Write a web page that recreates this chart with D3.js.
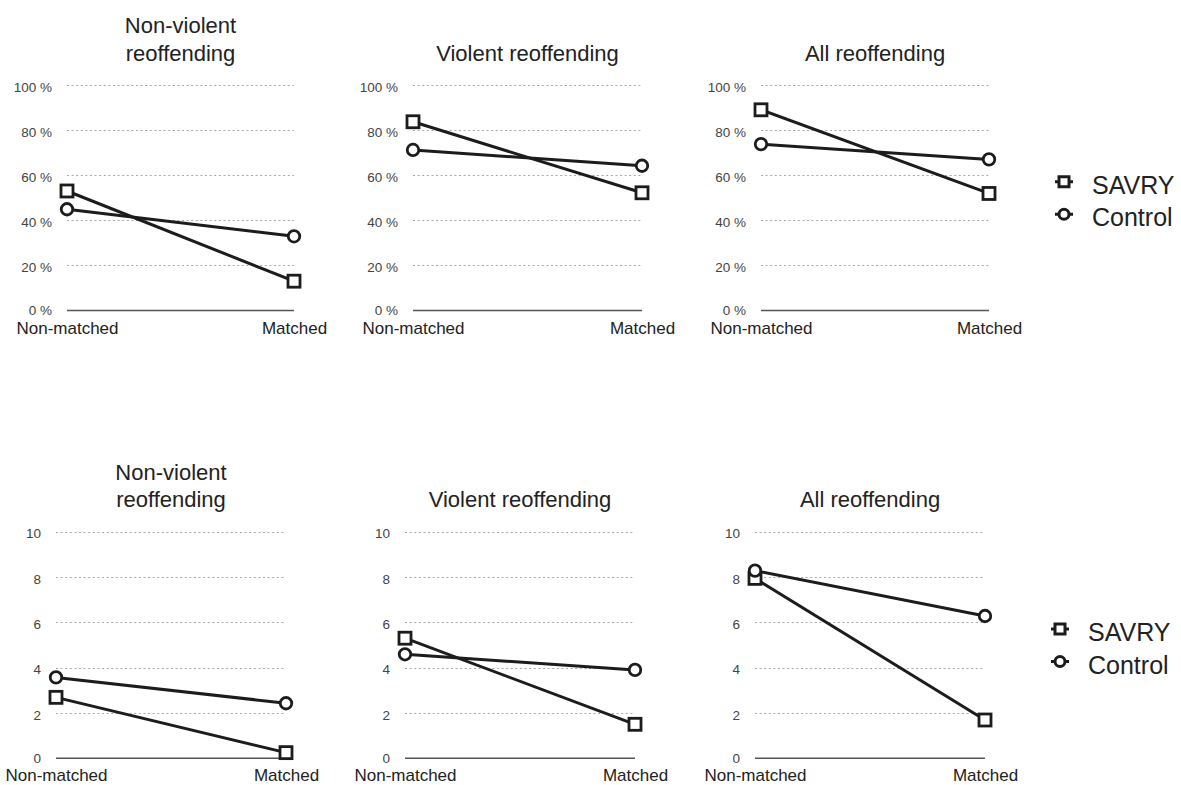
<!DOCTYPE html>
<html>
<head>
<meta charset="utf-8">
<script src="https://cdn.jsdelivr.net/npm/d3@7"></script>
<style>
  html, body { margin: 0; padding: 0; background: #fff; }
  svg { display: block; font-family: "Liberation Sans", Arial, Helvetica, sans-serif; }
</style>
</head>
<body>
<svg id="chart" width="1181" height="785"></svg>
<script>
// ---------------- DATA ----------------
const categories = ["Non-matched", "Matched"];
const seriesNames = ["SAVRY", "Control"];
const panelTitles = [["Non-violent", "reoffending"], ["Violent reoffending"], ["All reoffending"]];

// Top row: percentage reoffending
const topTicks = [0, 20, 40, 60, 80, 100];
const topSavry   = [[53.0, 13.0], [83.7, 52.2], [89.0, 51.9]];
const topControl = [[44.9, 32.9], [71.2, 64.2], [73.8, 67.0]];

// Bottom row: counts
const bottomTicks = [0, 2, 4, 6, 8, 10];
const bottomSavry   = [[2.69, 0.25], [5.30, 1.50], [7.94, 1.69]];
const bottomControl = [[3.57, 2.43], [4.59, 3.90], [8.28, 6.28]];

// ---------------- LAYOUT ----------------
const svg = d3.select("#chart");

const rows = [
  {
    ticks: topTicks, fmt: d => d + " %", max: 100,
    savry: topSavry, control: topControl,
    yBottom: 310.5, yTop: 85,
    xs: [[67, 294], [413, 642], [761, 989]],
    titleBase: 61, titleGap: 28
  },
  {
    ticks: bottomTicks, fmt: d => String(d), max: 10,
    savry: bottomSavry, control: bottomControl,
    yBottom: 758.3, yTop: 531.7,
    xs: [[56, 286], [405, 635], [755, 985]],
    titleBase: 507, titleGap: 27
  }
];

const ink = "#1c1c1c";

function drawMarker(g, type, cx, cy, size, sw) {
  if (type === "SAVRY") {
    g.append("rect")
      .attr("x", cx - size / 2).attr("y", cy - size / 2)
      .attr("width", size).attr("height", size)
      .attr("fill", "#fff").attr("stroke", ink).attr("stroke-width", sw);
  } else {
    g.append("circle")
      .attr("cx", cx).attr("cy", cy).attr("r", size / 2)
      .attr("fill", "#fff").attr("stroke", ink).attr("stroke-width", sw);
  }
}

rows.forEach(row => {
  const y = d3.scaleLinear().domain([0, row.max]).range([row.yBottom, row.yTop]);

  row.xs.forEach((xr, i) => {
    const x = d3.scalePoint().domain(categories).range(xr);
    const g = svg.append("g");

    // gridlines (dotted) except zero
    g.selectAll("line.grid")
      .data(row.ticks.filter(t => t !== 0))
      .join("line")
      .attr("class", "grid")
      .attr("x1", xr[0]).attr("x2", xr[1])
      .attr("y1", d => Math.round(y(d)) + 0.5).attr("y2", d => Math.round(y(d)) + 0.5)
      .attr("stroke", "#a8a8a8").attr("stroke-width", 1)
      .attr("stroke-dasharray", "2,2.6");

    // zero baseline
    g.append("line")
      .attr("x1", xr[0]).attr("x2", xr[1])
      .attr("y1", y(0)).attr("y2", y(0))
      .attr("stroke", "#555").attr("stroke-width", 1.5);

    // y axis labels
    const ya = g.append("g")
      .attr("transform", `translate(${xr[0]},0)`)
      .call(d3.axisLeft(y).tickValues(row.ticks).tickSize(0).tickPadding(15).tickFormat(row.fmt));
    ya.select(".domain").remove();
    ya.selectAll("text")
      .attr("font-size", "13.5px").attr("fill", "#444")
      .attr("font-family", "Liberation Sans, Arial, sans-serif")
      .attr("dy", d => d === 0 ? "0.3em" : "0.45em");

    // x axis labels
    const xa = g.append("g")
      .attr("transform", `translate(0,${y(0)})`)
      .call(d3.axisBottom(x).tickSize(0).tickPadding(11));
    xa.select(".domain").remove();
    xa.selectAll("text")
      .attr("font-size", "17px").attr("fill", "#222")
      .attr("font-family", "Liberation Sans, Arial, sans-serif");

    // title
    const lines = panelTitles[i];
    const cx = (xr[0] + xr[1]) / 2;
    lines.forEach((t, k) => {
      g.append("text")
        .attr("x", cx)
        .attr("y", row.titleBase - (lines.length - 1 - k) * row.titleGap)
        .attr("text-anchor", "middle")
        .attr("font-size", "22px").attr("fill", "#222")
        .text(t);
    });

    // series lines
    const lineGen = d3.line().x((d, j) => x(categories[j])).y(d => y(d));
    const seriesData = [
      { name: "SAVRY", vals: row.savry[i] },
      { name: "Control", vals: row.control[i] }
    ];
    seriesData.forEach(s => {
      g.append("path")
        .attr("d", lineGen(s.vals))
        .attr("fill", "none").attr("stroke", ink).attr("stroke-width", 3);
    });
    seriesData.forEach(s => {
      s.vals.forEach((v, j) => {
        drawMarker(g, s.name, x(categories[j]), y(v), s.name === "SAVRY" ? 12 : 11.5, 2.8);
      });
    });

    // legend next to last panel
    if (i === row.xs.length - 1) {
      const midY = (row.yBottom + row.yTop) / 2;
      const lg = svg.append("g");
      seriesNames.forEach((name, k) => {
        const my = midY - 16 + k * 32.5;
        const mx = xr[1] + 75;
        lg.append("line")
          .attr("x1", mx - 9).attr("x2", mx + 9)
          .attr("y1", my).attr("y2", my)
          .attr("stroke", ink).attr("stroke-width", 3);
        drawMarker(lg, name, mx, my, 10, 3);
        lg.append("text")
          .attr("x", mx + 28).attr("y", my + 12)
          .attr("font-size", "25px").attr("fill", "#222")
          .text(name);
      });
    }
  });
});
</script>
</body>
</html>
